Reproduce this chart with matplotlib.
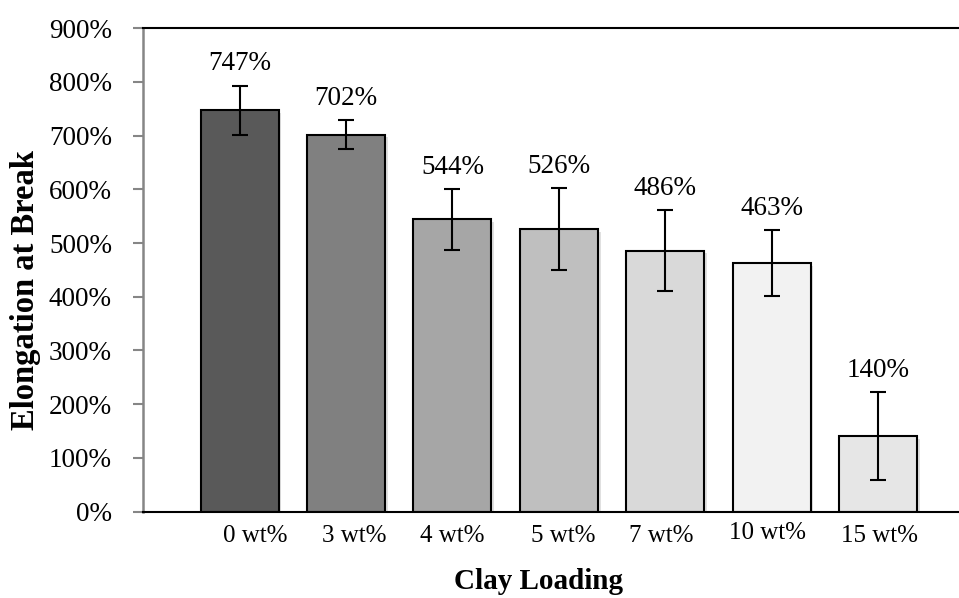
import matplotlib
matplotlib.use('Agg')
import matplotlib.pyplot as plt
import matplotlib.patheffects as pe
from matplotlib.transforms import ScaledTranslation

categorias = ['0 wt%', '3 wt%', '4 wt%', '5 wt%', '7 wt%', '10 wt%', '15 wt%']
elongacion = [747, 702, 544, 526, 486, 463, 140]
error = [46, 27, 57, 76, 75, 61, 82]
colores = ['#595959', '#808080', '#a6a6a6', '#bfbfbf', '#d9d9d9', '#f2f2f2', '#e6e6e6']

# desplazamiento de las etiquetas del eje x (pixeles), como en el original
dx_etq = [16, 8, 0, 4, -4, -4, 1.5]
dy_etq = [0, 0, 0, 0, 0, 3, 0]

plt.rcParams['font.family'] = ['Liberation Serif', 'DejaVu Serif']

fig = plt.figure(figsize=(9.59, 5.98), dpi=100)
ax = fig.add_axes([0.1486, 0.1446, 0.8514, 0.8081])

x = list(range(len(categorias)))
barras = ax.bar(x, elongacion, width=0.733, color=colores, edgecolor='black', linewidth=1.5, zorder=2)
for b in barras:
    b.set_path_effects([pe.SimplePatchShadow(offset=(2, -2), shadow_rgbFace='#000000', alpha=0.12), pe.Normal()])

ax.errorbar(x, elongacion, yerr=error, fmt='none', ecolor='black', elinewidth=1.5,
            capsize=6, capthick=1.5, zorder=3)

for xi, v, e in zip(x, elongacion, error):
    ax.annotate(f"{v}%", (xi, v + e), textcoords='offset points', xytext=(0, 11),
                ha='center', va='baseline', fontsize=19.5)

ax.set_xlim(-0.913, 6.761)
ax.set_ylim(0, 900)
ax.set_yticks(range(0, 901, 100))
ax.set_yticklabels([f"{t}%" for t in range(0, 901, 100)])

# etiquetas del eje x como texto, para poder desplazarlas
ax.set_xticks(x)
ax.set_xticklabels([])
for xi, cat, dx, dy in zip(x, categorias, dx_etq, dy_etq):
    tr = ax.get_xaxis_transform() + ScaledTranslation(dx / 100, (dy - 30) / 100, fig.dpi_scale_trans)
    ax.text(xi, 0, cat, transform=tr, ha='center', va='baseline', fontsize=18)

ax.tick_params(axis='x', length=0)
ax.tick_params(axis='y', length=7, width=1.5, color='#868686', pad=15, labelsize=19.5)

ax.spines['right'].set_visible(False)
ax.spines['left'].set_color('#868686')
ax.spines['left'].set_linewidth(1.8)
ax.spines['bottom'].set_color('black')
ax.spines['bottom'].set_linewidth(1.5)
ax.spines['top'].set_color('black')
ax.spines['top'].set_linewidth(1.5)

fig.text(0.562, 0.027, 'Clay Loading', ha='center', va='center', fontsize=21, fontweight='bold')
fig.text(0.027, 0.515, 'Elongation at Break', ha='center', va='center', rotation=90,
         fontsize=23.5, fontweight='bold')

plt.savefig('out.png', dpi=100)
